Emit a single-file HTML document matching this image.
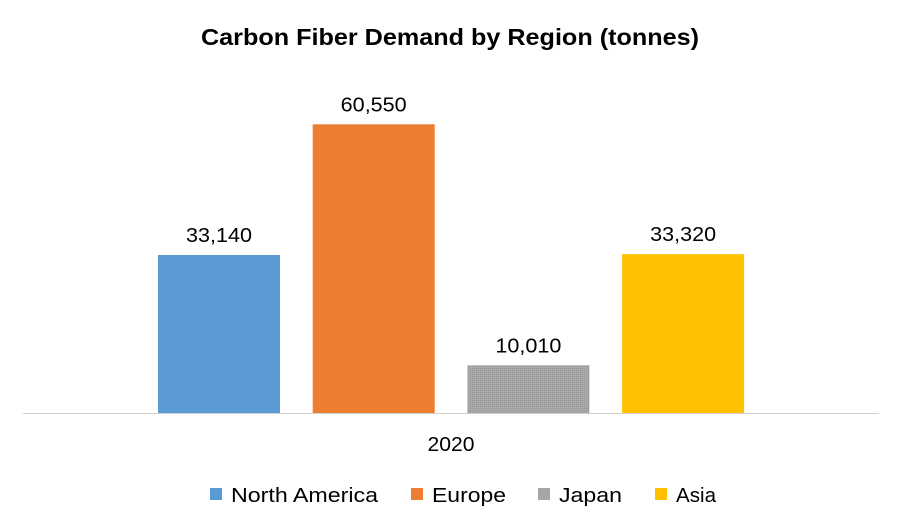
<!DOCTYPE html>
<html><head><meta charset="utf-8"><style>
body{margin:0;background:#fff;}
svg{display:block;font-family:"Liberation Sans",sans-serif;}
</style></head><body>
<svg id="chart" width="902" height="527">
<defs>
<pattern id="dots" width="2" height="2" patternUnits="userSpaceOnUse">
<rect width="2" height="2" fill="#a5a5a5"/><rect width="1" height="1" fill="#999"/><rect x="1" y="1" width="1" height="1" fill="#b0b0b0"/>
</pattern>
</defs>
<rect width="902" height="527" fill="#fff"/>
<text x="450" y="45" text-anchor="middle" font-size="23" font-weight="bold" fill="#000" textLength="498" lengthAdjust="spacingAndGlyphs">Carbon Fiber Demand by Region (tonnes)</text>
<line x1="23" y1="413.5" x2="879" y2="413.5" stroke="#d0d0d0" stroke-width="1"/>
<text x="451" y="451" text-anchor="middle" font-size="20" fill="#000" textLength="47" lengthAdjust="spacingAndGlyphs">2020</text>
<g id="bars"></g>
<g id="legend"></g>
</svg>
<script>
const categories=["North America","Europe","Japan","Asia"];
const values=[33140,60550,10010,33320];
const labels=["33,140","60,550","10,010","33,320"];
const colors=["#5b9bd5","#ed7d31","url(#dots)","#ffc000"];
const legendColors=["#5b9bd5","#ed7d31","#a5a5a5","#ffc000"];
const legendLens=[147,74,63,40];
const baseY=413, scale=288.7/60550;
const y=v=>baseY-v*scale;
const x=i=>158+i*154.7;
const ns="http://www.w3.org/2000/svg";
const bars=document.getElementById('bars');
values.forEach((v,i)=>{
 const r=document.createElementNS(ns,'rect');
 r.setAttribute('x',x(i));r.setAttribute('width',122);
 r.setAttribute('y',y(v));r.setAttribute('height',baseY-y(v));
 r.setAttribute('fill',colors[i]);
 
 
 bars.appendChild(r);
 const t=document.createElementNS(ns,'text');
 t.setAttribute('x',x(i)+61);t.setAttribute('y',y(v)-13);
 t.setAttribute('text-anchor','middle');t.setAttribute('font-size','20');
 t.setAttribute('textLength','66');t.setAttribute('lengthAdjust','spacingAndGlyphs');
 t.textContent=labels[i];
 
 
 bars.appendChild(t);
});
const lg=document.getElementById('legend');
const lx=[210,411,538,655];
categories.forEach((c,i)=>{
 const g=document.createElementNS(ns,'g');
 
 
 const r=document.createElementNS(ns,'rect');
 r.setAttribute('x',lx[i]);r.setAttribute('y',488);r.setAttribute('width',12);r.setAttribute('height',12);
 r.setAttribute('fill',legendColors[i]);
 g.appendChild(r);
 const t=document.createElementNS(ns,'text');
 t.setAttribute('x',lx[i]+21);t.setAttribute('y',502);t.setAttribute('font-size','20');
 t.setAttribute('textLength',legendLens[i]);t.setAttribute('lengthAdjust','spacingAndGlyphs');
 t.textContent=c;
 g.appendChild(t);
 lg.appendChild(g);
});
</script>
</body></html>
